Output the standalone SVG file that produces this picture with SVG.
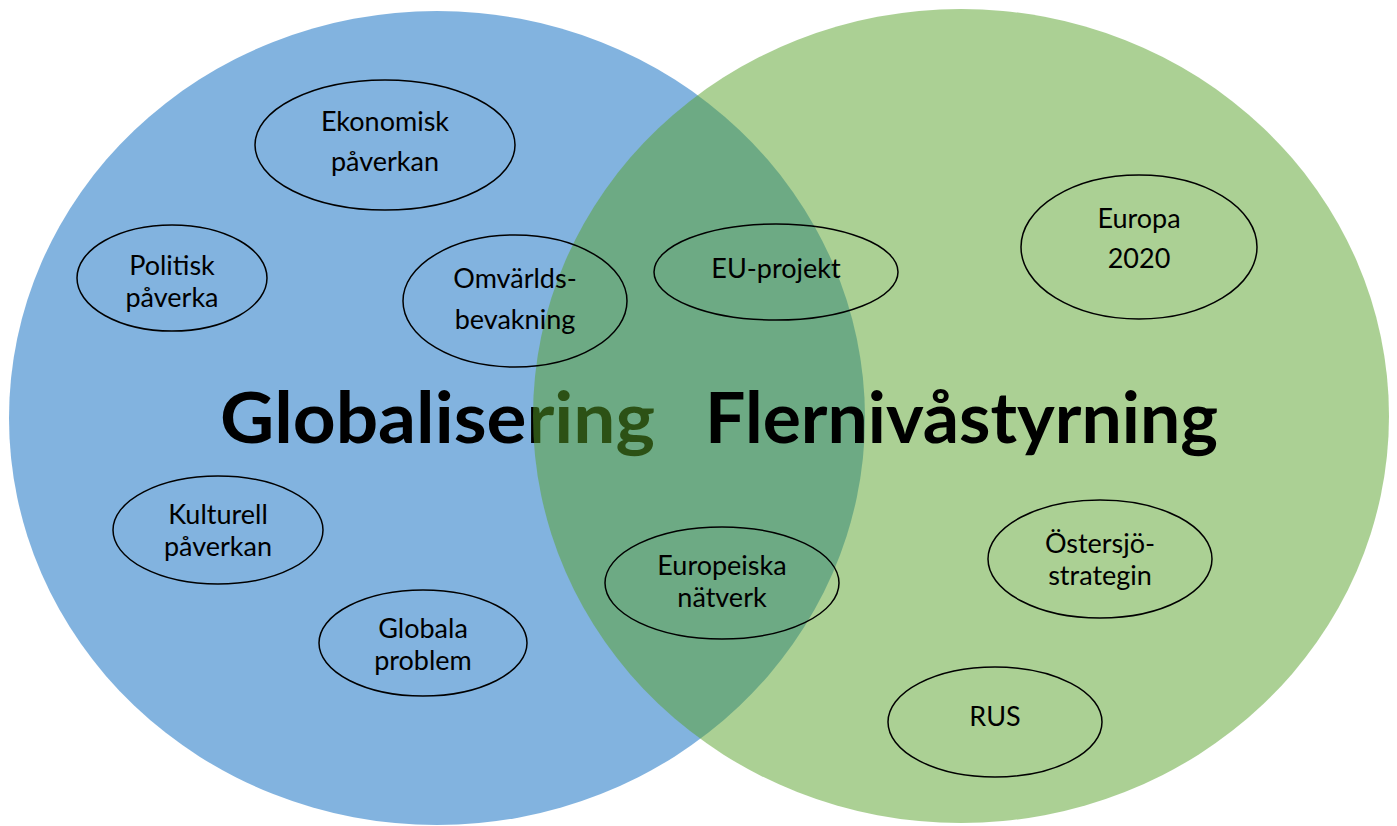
<svg xmlns="http://www.w3.org/2000/svg" width="1397" height="826" viewBox="0 0 1397 826">
<style>
.node ellipse{fill:none;stroke:#000;stroke-width:1.5}
.node text{font-family:Lato,"Liberation Sans",sans-serif;font-size:27px;fill:#000;text-anchor:middle}
.big{font-family:Lato,"Open Sans","Liberation Sans",sans-serif;font-weight:bold;font-size:70px;fill:#000}
</style>
<rect width="1397" height="826" fill="#fff"/>
<g id="circle-globalisering">
<ellipse cx="437" cy="418" rx="428" ry="407" fill="#5B9BD5" fill-opacity="0.76"/>
<text class="big" x="220" y="443" textLength="435" lengthAdjust="spacingAndGlyphs">Globalisering</text>
</g>
<g id="circle-flerniva">
<ellipse cx="961" cy="416" rx="428" ry="407" fill="#57A129" fill-opacity="0.5"/>
<text class="big" x="705" y="443" textLength="513" lengthAdjust="spacingAndGlyphs">Flernivåstyrning</text>
</g>
<g id="connectors"></g>
<g id="n-ekonomisk" class="node"><ellipse cx="385" cy="145" rx="130" ry="65"/><text x="385" y="131">Ekonomisk</text><text x="385" y="171">påverkan</text></g>
<g id="n-politisk" class="node"><ellipse cx="172" cy="278" rx="95" ry="53"/><text x="172" y="275">Politisk</text><text x="172" y="307">påverka</text></g>
<g id="n-omvarld" class="node"><ellipse cx="515" cy="301" rx="112" ry="66"/><text x="515" y="288">Omvärlds-</text><text x="515" y="329">bevakning</text></g>
<g id="n-euprojekt" class="node"><ellipse cx="776" cy="272" rx="122" ry="48"/><text x="776" y="278">EU-projekt</text></g>
<g id="n-europa2020" class="node"><ellipse cx="1139" cy="247" rx="118" ry="72"/><text x="1139" y="228">Europa</text><text x="1139" y="268">2020</text></g>
<g id="n-kulturell" class="node"><ellipse cx="218" cy="530" rx="105" ry="54"/><text x="218" y="524">Kulturell</text><text x="218" y="556">påverkan</text></g>
<g id="n-globala" class="node"><ellipse cx="423" cy="643" rx="104" ry="53"/><text x="423" y="638">Globala</text><text x="423" y="670">problem</text></g>
<g id="n-europeiska" class="node"><ellipse cx="722" cy="583" rx="117" ry="56"/><text x="722" y="575">Europeiska</text><text x="722" y="607">nätverk</text></g>
<g id="n-ostersjo" class="node"><ellipse cx="1100" cy="559" rx="112" ry="59"/><text x="1100" y="553">Östersjö-</text><text x="1100" y="585">strategin</text></g>
<g id="n-rus" class="node"><ellipse cx="995" cy="722" rx="107" ry="55"/><text x="995" y="726">RUS</text></g>
</svg>
